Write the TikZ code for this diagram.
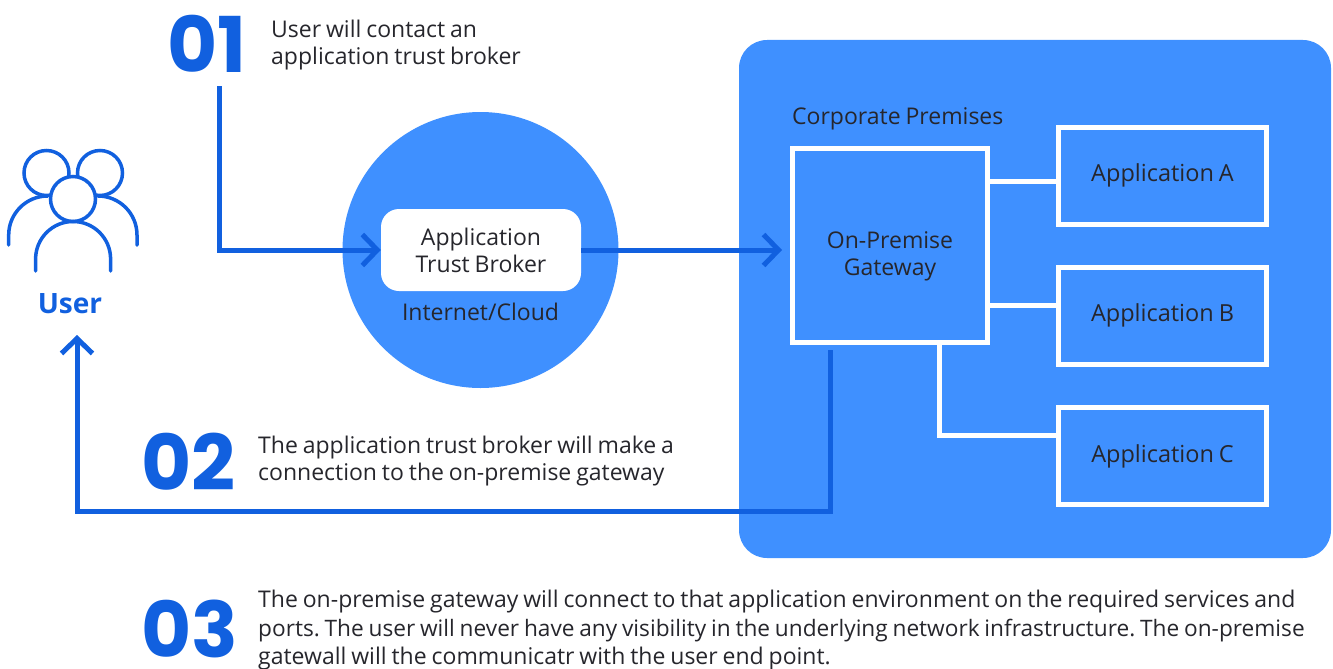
\documentclass[tikz,border=0pt]{standalone}
\usepackage{fontspec}
\setmainfont[WordSpace=0.82]{Open Sans}
\newfontfamily\numfont{Poppins}
\usetikzlibrary{arrows.meta}
\definecolor{darkblue}{HTML}{1160DF}
\definecolor{lightblue}{HTML}{3F90FF}
\definecolor{inktext}{HTML}{26262C}
\tikzset{
	label text/.style={text=inktext, inner sep=0pt, font=\frenchspacing\fontsize{23}{27}\selectfont},
	note/.style={label text, anchor=west, align=left},
	stepnum/.style={text=darkblue, inner sep=0pt, font=\numfont\bfseries\fontsize{77}{77}\selectfont},
	appbox/.style={draw=white, line width=5pt, label text, font=\frenchspacing\fontsize{23.5}{27}\selectfont, minimum width=208pt, minimum height=97pt, align=center},
	link/.style={draw=white, line width=5pt},
	flow/.style={draw=darkblue, line width=5pt, -{Straight Barb[length=15pt,width=31pt,line width=5pt]}},
	usericon/.style={draw=darkblue, line width=3.5pt, line cap=round},
}

\begin{document}
\begin{tikzpicture}[x=1pt, y=-1pt]
	\useasboundingbox (0,0) rectangle (1333,669);
	% corporate premises
	\fill[lightblue, rounded corners=28pt] (739,40) rectangle (1331,558);
	\node[label text, anchor=west] (premises) at (792,119) {Corporate Premises};
	% internet cloud
	\node[circle, fill=lightblue, minimum size=276pt, inner sep=0pt] (cloud) at (480.5,250) {};
	\node[label text, fill=white, rounded corners=18pt, minimum width=200pt, minimum height=82pt, align=center] (broker) at (481,250) {Application\\Trust Broker};
	\node[label text] (cloudlabel) at (480.5,312) {Internet/Cloud};
	% gateway and applications
	\node[appbox, minimum width=195pt, minimum height=194pt] (gateway) at (890,245.5) {};
	\node[label text, align=center] (gatewaylabel) at (890,256) {On-Premise\\Gateway};
	\node[appbox] (appA) at (1162.5,175.5) {Application A};
	\node[appbox] (appB) at (1162.5,315.5) {Application B};
	\node[appbox] (appC) at (1162.5,456) {Application C};
	\coordinate (linkA) at (1020,181);
	\coordinate (linkB) at (1020,305);
	\coordinate (linkC) at (939,435);
	\draw[link] (gateway.east |- linkA) -- (appA.west |- linkA);
	\draw[link] (gateway.east |- linkB) -- (appB.west |- linkB);
	\draw[link] (gateway.south -| linkC) |- (appC.west |- linkC);
	% user
	\draw[usericon] (46.5,173) circle (22.5);
	\draw[usericon] (100,173) circle (22.5);
	\draw[usericon] (8.7,245) -- (8.7,235) arc[start angle=180, end angle=90, x radius=39, y radius=-39];
	\draw[usericon] (137,245) -- (137,235) arc[start angle=0, end angle=90, x radius=39, y radius=-39];
	\draw[usericon, fill=white] (73,199) circle (22.5);
	\draw[usericon] (35.6,271) -- (35.6,259) arc[start angle=180, end angle=0, x radius=37.5, y radius=-37.5] -- (110.6,271);
	\node[text=darkblue, inner sep=0pt, font=\bfseries\fontsize{28}{28}\selectfont] (userlabel) at (70,304) {User};
	% steps
	\node[stepnum, anchor=west] (one) at (167,44) {01};
	\node[note] (onetext) at (271,45) {User will contact an\\application trust broker};
	\node[stepnum, anchor=west] (two) at (141,462) {02};
	\node[note] (twotext) at (258,461.5) {The application trust broker will make a\\connection to the on-premise gateway};
	\node[stepnum, anchor=west] (three) at (141,629) {03};
	\node[note, font=\frenchspacing\fontsize{23}{28.5}\selectfont] (threetext) at (258,630.5) {The on-premise gateway will connect to that application environment on the required services and\\{\fontsize{22.65}{28.5}\selectfont ports. The user will never have any visibility in the underlying network infrastructure. The on-premise}\\gatewall will the communicatr with the user end point.};
	% flows
	\coordinate (onestart) at (219,86);
	\coordinate (gwstart) at (830,350);
	\coordinate (corner) at (77,511);
	\coordinate (usertip) at (77,335);
	\draw[flow] (onestart) |- (broker.west);
	\draw[flow, shorten >=8pt] (broker.east) -- (broker.east -| gateway.west);
	\draw[flow] (gwstart) |- (corner) -- (usertip);
\end{tikzpicture}
\end{document}
